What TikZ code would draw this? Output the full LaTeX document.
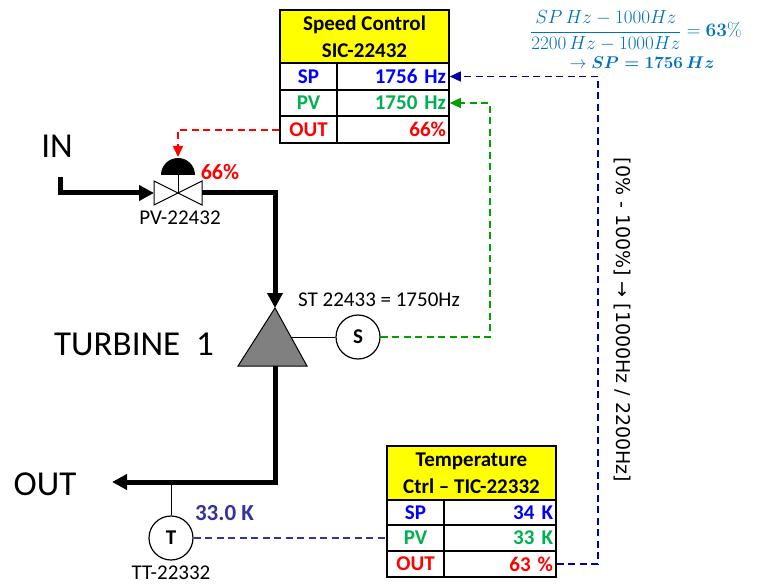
\documentclass[tikz,border=0pt]{standalone}
\usepackage{fix-cm}
\usepackage{amsmath}
\usepackage[no-math]{fontspec}
\setmainfont{Carlito}
\newfontfamily\dejavu{DejaVu Sans}
\usetikzlibrary{arrows.meta}
\definecolor{spblue}{RGB}{0,0,255}
\definecolor{pvgreen}{RGB}{0,176,80}
\definecolor{outred}{RGB}{255,0,0}
\definecolor{hdryellow}{RGB}{255,255,0}
\definecolor{navyline}{RGB}{0,0,170}
\definecolor{sigreen}{RGB}{0,160,0}
\definecolor{ttblue}{RGB}{51,51,160}
\definecolor{frmblue}{RGB}{0,112,192}
\definecolor{turbgray}{RGB}{128,128,128}
\begin{document}
\begin{tikzpicture}[x=1pt,y=-1pt,
  tcell/.style={draw,line width=1.6pt,inner sep=0pt,font=\fontsize{21}{27}\selectfont\bfseries},
  hdr/.style={tcell,fill=hdryellow,minimum width=169pt,align=center},
  lcell/.style={tcell,minimum width=57pt},
  rcell/.style={tcell,inner xsep=3pt,text width=106pt,align=right},
  pipe/.style={line width=5pt,line join=miter},
  pipetip/.style={-{Triangle[length=15pt,width=15pt]}},
  sig/.style={line width=1.6pt,dash pattern=on 7pt off 4.5pt},
  sigtip/.style={-{Triangle[length=11pt,width=10pt]}},
  inst/.style={draw,circle,line width=1.2pt,minimum size=44pt,inner sep=0pt,fill=white,font=\fontsize{21}{25}\selectfont\bfseries},
  lbl/.style={font=\fontsize{21}{25}\selectfont,inner sep=0pt},
  big/.style={font=\fontsize{35}{40}\selectfont,inner sep=0pt},
  thinline/.style={line width=1pt}
]
\useasboundingbox (0,0) rectangle (757,585);

% ---------- Speed control table ----------
\node[hdr,minimum height=53pt] (sh) at (364.5,36.5) {Speed Control\\SIC-22432};
\node[lcell,minimum height=27pt,text=spblue] (spL) at (308.5,76.5) {SP};
\node[rcell,minimum height=27pt,text=spblue] (spR) at (393,76.5) {1756 Hz};
\node[lcell,minimum height=26pt,text=pvgreen] (pvL) at (308.5,103) {PV};
\node[rcell,minimum height=26pt,text=pvgreen] (pvR) at (393,103) {1750 Hz};
\node[lcell,minimum height=27pt,text=outred] (outL) at (308.5,129.5) {OUT};
\node[rcell,minimum height=27pt,text=outred] (outR) at (393,129.5) {66\%};

% ---------- Temperature table ----------
\node[hdr,minimum height=54pt] (th) at (471.5,473) {Temperature\\Ctrl -- TIC-22332};
\node[lcell,minimum height=25pt,text=spblue] (tspL) at (415.5,512.5) {SP};
\node[rcell,minimum height=25pt,text=spblue] (tspR) at (500,512.5) {34 K};
\node[lcell,minimum height=26pt,text=pvgreen] (tpvL) at (415.5,538) {PV};
\node[rcell,minimum height=26pt,text=pvgreen] (tpvR) at (500,538) {33 K};
\node[lcell,minimum height=26pt,text=outred] (toutL) at (415.5,564) {OUT};
\node[rcell,minimum height=26pt,text=outred] (toutR) at (500,564) {63 \%};

% ---------- Valve ----------
\coordinate (vc) at (178,193);
\coordinate (vL) at (154,193);
\coordinate (vR) at (202,193);
\coordinate (dome) at (178,175);
\coordinate (act) at (178,157);
\draw[thinline,fill=white] (154,181) -- (154,205) -- (vc) -- cycle;
\draw[thinline,fill=white] (202,181) -- (202,205) -- (vc) -- cycle;
\draw[thinline] (vc) -- (dome);
\fill (161,175) .. controls (161,165.6) and (168.6,158) .. (178,158)
      .. controls (187.4,158) and (195,165.6) .. (195,175) -- cycle;
\node[font=\fontsize{22}{26}\selectfont\bfseries,text=outred,inner sep=0pt] (vpct) at (220,172) {66\%};
\node[lbl] (vtag) at (180,218) {PV-22432};

% ---------- Turbine ----------
\coordinate (tapex) at (275,308);
\coordinate (tbase) at (275,366);
\draw[thinline,fill=turbgray] (tapex) -- (238,366) -- (307,366) -- cycle;
\coordinate (tside) at (291,337);
\node[inst] (S) at (358,337) {S};
\draw[thinline] (tside) -- (S.west);
\node[lbl] (stlbl) at (379,300) {ST 22433 = 1750Hz};
\node[big] (turb) at (134,344) {TURBINE\ \ 1};

% ---------- Pipes ----------
\coordinate (inpt) at (60,177);
\coordinate (outpt) at (112,482);
\draw[pipe,pipetip] (inpt) |- (vL);
\draw[pipe,pipetip] (vR) -| (tapex);
\draw[pipe,pipetip] (tbase) |- (outpt);
\node[big] (inlbl) at (57,146) {IN};
\node[big] (outlbl) at (45,484) {OUT};

% ---------- Temperature transmitter ----------
\coordinate (ttap) at (171,482);
\node[inst] (T) at (171,538) {T};
\draw[thinline] (ttap) -- (T.north);
\node[lbl] (tttag) at (171,573) {TT-22332};
\node[font=\fontsize{23}{27}\selectfont\bfseries,text=ttblue,inner sep=0pt] (tval) at (224.5,513) {33.0 K};

% ---------- Signal lines ----------
\coordinate (rcorner) at (178,130);
\draw[sig,sigtip,draw=outred] (outL.west |- rcorner) -- (rcorner) -- (act);
\coordinate (gcorner) at (490,337);
\draw[sig,sigtip,draw=sigreen] (S.east) -- (gcorner) |- (pvR.east);
\coordinate (bcorner) at (598,564);
\draw[sig,sigtip,draw=navyline] (toutR.east) -- (bcorner) |- (spR.east);
\draw[sig,draw=ttblue] (T.east) -- (tpvL.west);

% ---------- Annotations ----------
\node[rotate=-90,font=\dejavu\fontsize{19}{22}\selectfont,inner sep=0pt] (range) at (622,320) {[0\% - 100\%] → [1000Hz / 2200Hz]};
\node[text=frmblue,font=\fontsize{19}{22}\selectfont,inner sep=0pt] (frm) at (636,31)
  {$\displaystyle\frac{SP\,Hz-1000Hz}{2200\,Hz-1000Hz}=\mathbf{63\%}$};
\node[text=frmblue,font=\fontsize{17}{20}\selectfont,inner sep=0pt] (frm2) at (642,63)
  {$\rightarrow\boldsymbol{SP=1756\,Hz}$};
\end{tikzpicture}
\end{document}
